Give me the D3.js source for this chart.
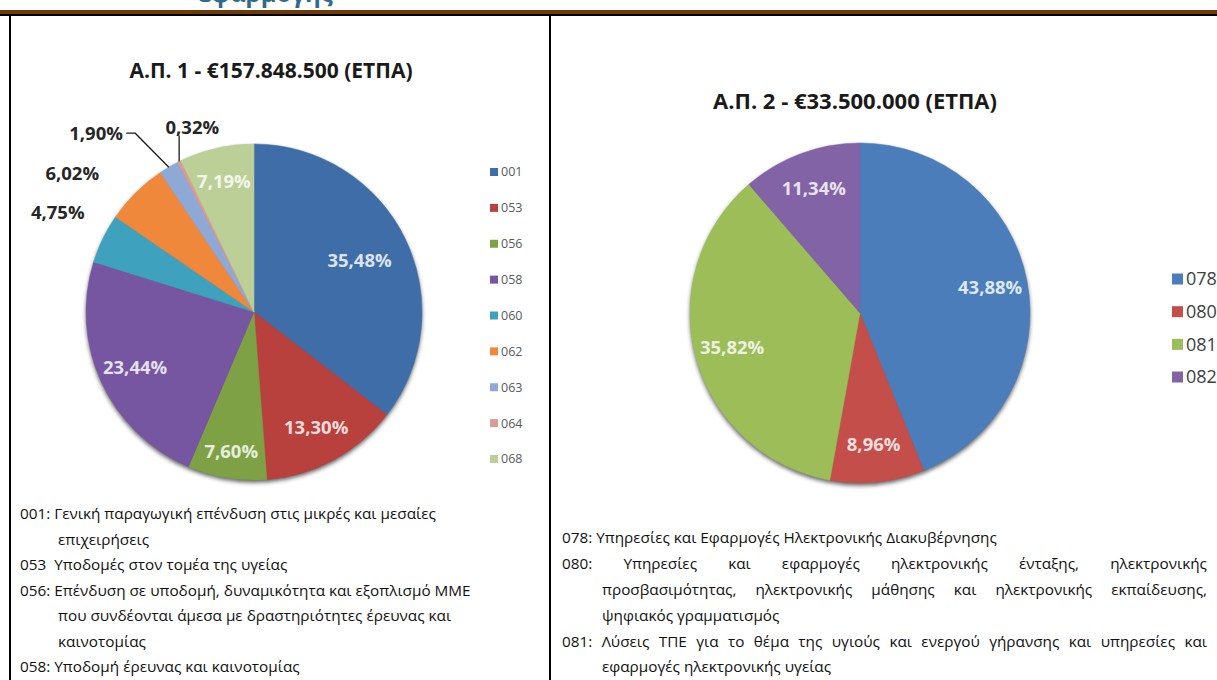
<!DOCTYPE html>
<html>
<head>
<meta charset="utf-8">
<script src="https://cdn.jsdelivr.net/npm/d3@7"></script>
<style>
  body { margin: 0; background: #fff; }
  svg { display: block; font-family: "Open Sans", "Noto Sans", sans-serif; }
  text { white-space: pre; }
</style>
</head>
<body>
<script>
// ---------------------------------- data ----------------------------------
const ap1Amount = 157848500;
const ap1Codes  = ["001", "053", "056", "058", "060", "062", "063", "064", "068"];
const ap1Values = [35.48, 13.30, 7.60, 23.44, 4.75, 6.02, 1.90, 0.32, 7.19];
const ap1Colors = ["#3F6DA8", "#B8413E", "#7FA146", "#7656A0", "#3EA2BE", "#F0883B", "#8EA9D6", "#DB9A98", "#BCCF96"];

const ap2Amount = 33500000;
const ap2Codes  = ["078", "080", "081", "082"];
const ap2Values = [43.88, 8.96, 35.82, 11.34];
const ap2Colors = ["#4A7DBA", "#C44E4A", "#9CBD58", "#8263A6"];

const ap1Notes = [
  { code: "001:", lines: ["Γενική παραγωγική επένδυση στις μικρές και μεσαίες", "επιχειρήσεις"] },
  { code: "053 ", lines: ["Υποδομές στον τομέα της υγείας"] },
  { code: "056:", lines: ["Επένδυση σε υποδομή, δυναμικότητα και εξοπλισμό ΜΜΕ", "που συνδέονται άμεσα με δραστηριότητες έρευνας και", "καινοτομίας"] },
  { code: "058:", lines: ["Υποδομή έρευνας και καινοτομίας"] }
];
const ap2Notes = [
  { code: "078:", lines: ["Υπηρεσίες και Εφαρμογές Ηλεκτρονικής Διακυβέρνησης"] },
  { code: "080:", lines: ["Υπηρεσίες και εφαρμογές ηλεκτρονικής ένταξης, ηλεκτρονικής", "προσβασιμότητας, ηλεκτρονικής μάθησης και ηλεκτρονικής εκπαίδευσης,", "ψηφιακός γραμματισμός"] },
  { code: "081:", lines: ["Λύσεις ΤΠΕ για το θέμα της υγιούς και ενεργού γήρανσης και υπηρεσίες και", "εφαρμογές ηλεκτρονικής υγείας"] }
];

// ---------------------------------- init ----------------------------------
const width = 1217, height = 680;
const gr = d3.formatLocale({ decimal: ",", thousands: ".", grouping: [3], currency: ["€", ""] });
const pct = v => gr.format(".2f")(v) + "%";
const euro = gr.format("$,.0f");
const rad = deg => deg * Math.PI / 180;

const svg = d3.select("body").append("svg")
    .attr("width", width)
    .attr("height", height);

const defs = svg.append("defs");
defs.append("filter").attr("id", "shadow")
    .attr("x", "-10%").attr("y", "-10%").attr("width", "120%").attr("height", "120%")
  .append("feGaussianBlur").attr("stdDeviation", 2);

// ------------------------------ page frame ---------------------------------
// heading of the page above, cut by the top edge
svg.append("text")
    .attr("x", 198).attr("y", 2)
    .attr("font-size", 24).attr("font-weight", "bold")
    .attr("fill", "#2D6C8C")
    .text("εφαρμογής");

svg.append("rect").attr("x", 0).attr("y", 10).attr("width", width).attr("height", 4).attr("fill", "#6F3A08");
svg.append("rect").attr("x", 0).attr("y", 14).attr("width", width).attr("height", 2).attr("fill", "#000");
svg.append("rect").attr("x", 9).attr("y", 14).attr("width", 2).attr("height", height).attr("fill", "#000");
svg.append("rect").attr("x", 549).attr("y", 14).attr("width", 2).attr("height", height).attr("fill", "#000");

// ------------------------------ pie drawing --------------------------------
function drawPie(cfg) {
  const data = cfg.codes.map((c, i) => ({ code: c, value: cfg.values[i], color: cfg.colors[i] }));

  svg.append("text")
      .attr("x", cfg.titleX).attr("y", cfg.titleY)
      .attr("text-anchor", "middle").attr("dy", "0.35em")
      .attr("font-size", cfg.titleSize).attr("font-weight", "bold")
      .attr("fill", "#1a1a1a")
      .text(cfg.title);

  const g = svg.append("g").attr("transform", `translate(${cfg.cx},${cfg.cy})`);
  const arcs = d3.pie().sort(null).value(d => d.value)(data);
  const arc = d3.arc().innerRadius(0).outerRadius(cfg.r);

  g.append("circle")
      .attr("r", cfg.r).attr("cy", 2.5)
      .attr("fill", "#2a2a2a").attr("opacity", 0.75)
      .attr("filter", "url(#shadow)");

  g.selectAll("path.slice")
    .data(arcs)
    .join("path")
      .attr("class", "slice")
      .attr("d", arc)
      .attr("fill", d => d.data.color)
      .attr("stroke", d => d.data.color)
      .attr("stroke-width", 0.5);

  arcs.forEach(d => {
    const mid = (d.startAngle + d.endAngle) / 2;
    const out = cfg.outside[d.data.code];
    if (out) {
      const p = d3.pointRadial(mid + rad(out.da), cfg.r * out.k);
      const t = g.append("text")
          .attr("x", p[0]).attr("y", p[1]).attr("dy", "0.35em")
          .attr("text-anchor", "middle")
          .attr("font-size", cfg.labelSize).attr("font-weight", "bold")
          .attr("fill", "#262626")
          .text(pct(d.data.value));
      const edge = d3.pointRadial(mid, cfg.r);
      const bb = t.node().getBBox();
      let pts = null;
      if (out.leader === "elbow") {
        const x0 = bb.x + bb.width + 3;
        pts = [[x0, p[1]], [x0 + 9, p[1]], edge];
      } else if (out.leader === "vertical") {
        pts = [[edge[0], bb.y + bb.height - 3], edge];
      }
      if (pts) {
        g.append("path")
            .attr("d", d3.line()(pts))
            .attr("fill", "none")
            .attr("stroke", "#1a1a1a")
            .attr("stroke-width", 1.3);
      }
    } else {
      const k = cfg.inside[d.data.code] || 0.78;
      const c = d3.arc().innerRadius(cfg.r * k).outerRadius(cfg.r * k).centroid(d);
      g.append("text")
          .attr("x", c[0]).attr("y", c[1]).attr("dy", "0.35em")
          .attr("text-anchor", "middle")
          .attr("font-size", cfg.labelSize).attr("font-weight", "bold")
          .attr("fill", d3.interpolateRgb(d.data.color, "#fff")(0.82))
          .text(pct(d.data.value));
    }
  });

  // legend
  const yLeg = d3.scalePoint().domain(cfg.codes).range(cfg.legendRange);
  const leg = svg.append("g");
  data.forEach(d => {
    leg.append("rect")
        .attr("x", cfg.legendX).attr("y", yLeg(d.code) - cfg.swatch / 2)
        .attr("width", cfg.swatch).attr("height", cfg.swatch)
        .attr("fill", d.color);
    leg.append("text")
        .attr("x", cfg.legendX + cfg.swatch + 3).attr("y", yLeg(d.code)).attr("dy", "0.35em")
        .attr("font-size", cfg.legendSize).attr("fill", cfg.legendColor)
        .text(d.code);
  });
}

drawPie({
  title: `Α.Π. 1 - ${euro(ap1Amount)} (ΕΤΠΑ)`,
  codes: ap1Codes, values: ap1Values, colors: ap1Colors,
  cx: 254, cy: 312, r: 168,
  titleX: 271, titleY: 71, titleSize: 21, labelSize: 18.5,
  inside: { "001": 0.70, "053": 0.78, "056": 0.84, "058": 0.78, "068": 0.80 },
  outside: {
    "060": { k: 1.31, da: 1 },
    "062": { k: 1.36, da: -8 },
    "063": { k: 1.42, da: -11, leader: "elbow" },
    "064": { k: 1.16, da: 8, leader: "vertical" }
  },
  legendX: 490, legendRange: [172, 459], swatch: 8, legendSize: 12.5, legendColor: "#595959"
});

drawPie({
  title: `Α.Π. 2 - ${euro(ap2Amount)} (ΕΤΠΑ)`,
  codes: ap2Codes, values: ap2Values, colors: ap2Colors,
  cx: 860, cy: 313, r: 170,
  titleX: 855, titleY: 101, titleSize: 22, labelSize: 18.5,
  inside: {},
  outside: {},
  legendX: 1172, legendRange: [279, 377], swatch: 11, legendSize: 18, legendColor: "#404040"
});

// ------------------------------ notes --------------------------------------
function drawNotes(notes, cfg) {
  let row = 0;
  notes.forEach(n => {
    n.lines.forEach((line, i) => {
      const y = cfg.y0 + row * cfg.step;
      const words = (i === 0 ? [n.code.trim()] : []).concat(line.split(" "));
      const x0 = i === 0 ? cfg.x : cfg.x + cfg.indent;
      const justify = cfg.justify && i < n.lines.length - 1;
      const t = svg.append("text")
          .attr("y", y).attr("dy", "0.35em")
          .attr("font-size", cfg.size).attr("fill", "#111");
      if (justify) {
        const spans = words.map(w => t.append("tspan").text(w));
        const w = spans.map(s => s.node().getComputedTextLength());
        const gap = (cfg.right - x0 - d3.sum(w)) / (words.length - 1);
        let x = x0;
        spans.forEach((s, j) => { s.attr("x", x); x += w[j] + gap; });
      } else {
        t.attr("x", x0).text(i === 0 ? `${n.code} ${line}` : line);
      }
      row++;
    });
  });
}

drawNotes(ap1Notes, { x: 20, indent: 38, y0: 514, step: 25.5, size: 15.3, justify: false });
drawNotes(ap2Notes, { x: 562, indent: 40, y0: 538, step: 25.8, size: 15.3, justify: true, right: 1207 });
</script>
</body>
</html>
